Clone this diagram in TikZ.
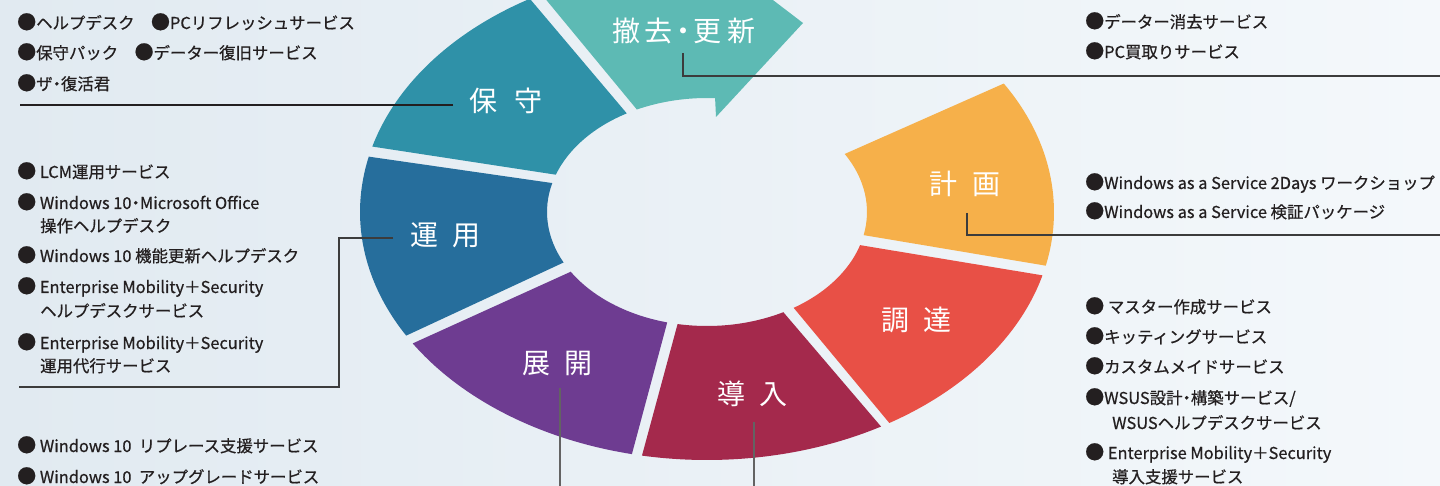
\documentclass[tikz,border=0pt]{standalone}
\usepackage{fontspec}
\setmainfont{Noto Sans CJK JP}
\newfontfamily\itemfont[FakeBold=0.6]{Noto Sans CJK JP}
\newcommand{\bul}{{\fontsize{19}{18}\selectfont ●}}
\newcommand{\ndot}{\hspace{-4pt}・\hspace{-4pt}}
\definecolor{bgA}{RGB}{225,234,241}
\definecolor{bgB}{RGB}{244,248,251}
\definecolor{cTekkyo}{RGB}{93,186,180}
\definecolor{cHoshu}{RGB}{47,145,168}
\definecolor{cUnyo}{RGB}{38,110,156}
\definecolor{cTenkai}{RGB}{110,60,145}
\definecolor{cDonyu}{RGB}{164,41,76}
\definecolor{cChotatsu}{RGB}{232,80,70}
\definecolor{cKeikaku}{RGB}{246,176,74}
\definecolor{txt}{RGB}{35,31,32}
\definecolor{linec}{RGB}{60,60,60}
\begin{document}
\begin{tikzpicture}[x=1pt,y=1pt,
  item/.style={anchor=base west, inner sep=0pt, font=\itemfont\fontsize{16.4}{18}\selectfont, text=txt},
  seglabel/.style={anchor=base, inner sep=0pt, text=white, font=\fontsize{28}{30}\selectfont},
  conn/.style={draw=linec, line width=1.2pt}]
\useasboundingbox (0,0) rectangle (1440,-486);
\clip (0,0) rectangle (1440,-486);
\shade[left color=bgA, right color=bgB] (0,0) rectangle (1440,-486);

% ring segments (parametric ellipse angles)
\begin{scope}[shift={(707,-212)}]
\fill[cKeikaku] (-12.5:347 and 248) arc[start angle=-12.5,end angle=31.2,x radius=347,y radius=248]
  -- (30.6:160 and 114) arc[start angle=30.6,end angle=-11.7,x radius=160,y radius=114] -- cycle;
\fill[cChotatsu] (-58.3:347 and 248) arc[start angle=-58.3,end angle=-14.8,x radius=347,y radius=248]
  -- (-16.9:160 and 114) arc[start angle=-16.9,end angle=-57.2,x radius=160,y radius=114] -- cycle;
\fill[cDonyu] (-100.8:347 and 248) arc[start angle=-100.8,end angle=-59.9,x radius=347,y radius=248]
  -- (-61.5:160 and 114) arc[start angle=-61.5,end angle=-100.6,x radius=160,y radius=114] -- cycle;
\fill[cTenkai] (-148:347 and 248) arc[start angle=-148,end angle=-102.5,x radius=347,y radius=248]
  -- (-104.4:160 and 114) arc[start angle=-104.4,end angle=-148.4,x radius=160,y radius=114] -- cycle;
\fill[cUnyo] (167.1:347 and 248) arc[start angle=167.1,end angle=209.9,x radius=347,y radius=248]
  -- (206.3:160 and 114) arc[start angle=206.3,end angle=165.3,x radius=160,y radius=114] -- cycle;
\fill[cHoshu] (120.7:347 and 248) arc[start angle=120.7,end angle=164.7,x radius=347,y radius=248]
  -- (160.9:160 and 114) arc[start angle=160.9,end angle=120.1,x radius=160,y radius=114] -- cycle;
\fill[cTekkyo] (118.5:347 and 248) arc[start angle=118.5,end angle=88.7,x radius=347,y radius=248]
  -- (7,257) -- (96,189) -- (9,95) -- (87.1:160 and 114)
  arc[start angle=87.1,end angle=116,x radius=160,y radius=114] -- cycle;
\end{scope}

% segment labels
\node[seglabel] (lTekkyo) at (683.5,-42) {撤\hspace{5pt}去\ndot 更\hspace{6pt}新};
\node[seglabel] (lHoshu) at (506,-112) {保\hspace{17pt}守};
\node[seglabel] (lUnyo) at (445.5,-245.6) {運\hspace{15pt}用};
\node[seglabel] (lKeikaku) at (965,-194.6) {計\hspace{15pt}画};
\node[seglabel] (lChotatsu) at (916.5,-330.6) {調\hspace{15pt}達};
\node[seglabel] (lDonyu) at (752.5,-404.6) {導\hspace{15pt}入};
\node[seglabel] (lTenkai) at (557.5,-373.6) {展\hspace{15pt}開};

% connectors
\coordinate (hA) at (453,-105);
\coordinate (hB) at (20,-105);
\draw[conn, draw=txt] (hA) -- (hB);
\coordinate (tA) at (683,-53);
\coordinate (tB) at (1440,-76);
\draw[conn] (tA) |- (tB);
\coordinate (kA) at (967,-213);
\coordinate (kB) at (1440,-235);
\draw[conn] (kA) |- (kB);
\coordinate (uA) at (393,-238);
\coordinate (uB) at (339,-238);
\coordinate (uC) at (19,-387);
\draw[conn] (uA) -- (uB) |- (uC);
\coordinate (teA) at (560,-388);
\coordinate (teB) at (560,-486);
\draw[conn, draw=linec!80] (teA) -- (teB);
\coordinate (dA) at (754,-422);
\coordinate (dB) at (754,-486);
\draw[conn, draw=linec!80] (dA) -- (dB);

% 保守 list
\node[item] (h1) at (17,-29) {\bul ヘルプデスク　\bul PCリフレッシュサービス};
\node[item] (h2) at (17,-59) {\bul 保守パック　\bul データー復旧サービス};
\node[item] (h3) at (17,-90) {\bul ザ\ndot 復活君};
% 運用 list
\node[item] (u1) at (17,-178) {\bul\ LCM運用サービス};
\node[item] (u2) at (17,-209) {\bul\ Windows 10\ndot Microsoft Office};
\node[item] (u2b) at (40,-232) {操作ヘルプデスク};
\node[item] (u3) at (17,-262) {\bul\ Windows 10 機能更新ヘルプデスク};
\node[item] (u4) at (17,-293) {\bul\ Enterprise Mobility＋Security};
\node[item] (u4b) at (40,-317) {ヘルプデスクサービス};
\node[item] (u5) at (17,-349) {\bul\ Enterprise Mobility＋Security};
\node[item] (u5b) at (40,-372) {運用代行サービス};
% 展開 list
\node[item] (te1) at (17,-452) {\bul\ Windows 10\ \ リプレース支援サービス};
\node[item] (te2) at (17,-483) {\bul\ Windows 10\ \ アップグレードサービス};
% 撤去・更新 list
\node[item] (t1) at (1085,-28) {\bul データー消去サービス};
\node[item] (t2) at (1085,-58) {\bul PC買取りサービス};
% 計画 list
\node[item] (k1) at (1085,-189) {\bul Windows as a Service 2Days ワークショップ};
\node[item] (k2) at (1085,-218) {\bul Windows as a Service 検証パッケージ};
% 調達 list
\node[item] (c1) at (1085,-313) {\bul\ マスター作成サービス};
\node[item] (c2) at (1085,-343) {\bul キッティングサービス};
\node[item] (c3) at (1085,-373) {\bul カスタムメイドサービス};
\node[item] (c4) at (1085,-404) {\bul WSUS設計\ndot 構築サービス/};
\node[item] (c4b) at (1112,-429) {WSUSヘルプデスクサービス};
\node[item] (c5) at (1085,-459) {\bul\ Enterprise Mobility＋Security};
\node[item] (c5b) at (1112,-483) {導入支援サービス};
\end{tikzpicture}
\end{document}
